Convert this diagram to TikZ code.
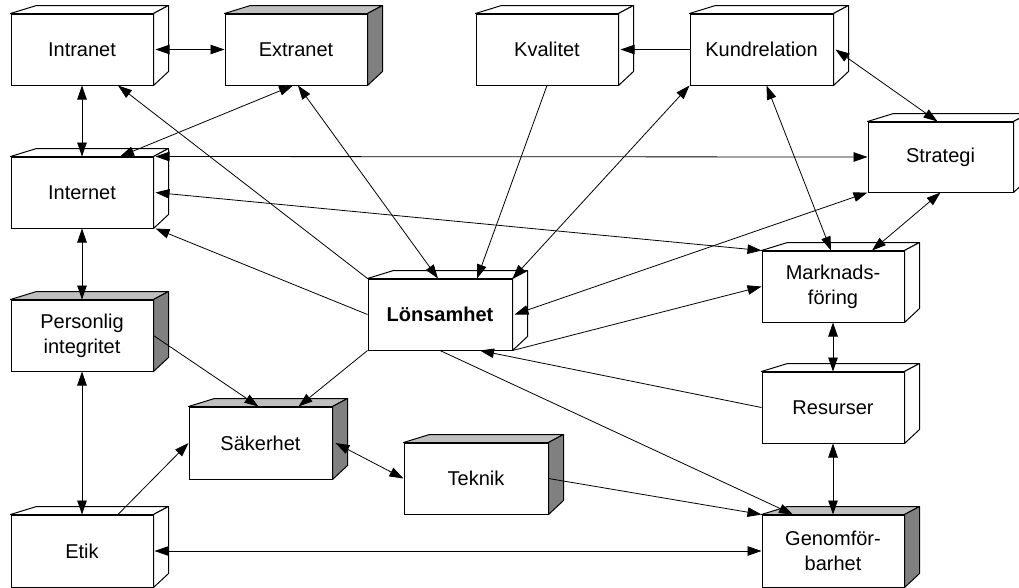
\documentclass[tikz,border=0pt]{standalone}
\usepackage{fontspec}
\setmainfont{Liberation Sans}
\usetikzlibrary{arrows.meta}
\newcommand\cubebox[8]{%
  \node[front, minimum width={(#4)-(#2)}, minimum height={(#5)-(#3)}] (#1) at ({((#2)+(#4))/2},{((#3)+(#5))/2}) {#8};
  \draw[#6] (#1.north west) -- ++(26,-8) -- ([shift={(15,-8)}]#1.north east) -- (#1.north east) -- cycle;
  \draw[#7] (#1.north east) -- ++(15,-8) -- ([shift={(15,-14)}]#1.south east) -- (#1.south east) -- cycle;
}
\begin{document}
\begin{tikzpicture}[x=1pt,y=-1pt,
  front/.style={draw=black, line width=1pt, fill=white, inner sep=0pt, align=center, font=\fontsize{20}{25}\selectfont},
  face/.style={draw=black, line width=1pt, line join=round},
  wface/.style={face, fill=white},
  ltface/.style={face, fill=black!25},
  dkface/.style={face, fill=black!50},
  link/.style={line width=0.8pt, -{Triangle[length=14pt,width=9.5pt]}},
  dlink/.style={line width=0.8pt, {Triangle[length=14pt,width=9.5pt]}-{Triangle[length=14pt,width=9.5pt]}},
]
\path[use as bounding box] (0,0) rectangle (1019,587);
\clip (0,0) rectangle (1019,587);
\fill[white] (0,0) rectangle (1019,587);

\cubebox{intranet}{11}{14}{153}{85}{wface}{wface}{Intranet}
\cubebox{extranet}{225}{14}{367}{85}{ltface}{dkface}{Extranet}
\cubebox{kvalitet}{476}{14}{618}{85}{wface}{wface}{Kvalitet}
\cubebox{kundrel}{690}{14}{833}{85}{wface}{wface}{Kundrelation}
\cubebox{strategi}{868}{122}{1013}{192}{wface}{wface}{Strategi}
\cubebox{internet}{11}{157}{153}{228}{wface}{wface}{Internet}
\cubebox{personlig}{11}{300}{153}{371}{ltface}{dkface}{Personlig\\integritet}
\cubebox{lonsam}{368}{279}{512}{350}{wface}{wface}{\textbf{Lönsamhet}}
\cubebox{markn}{762}{251}{904}{322}{wface}{wface}{Marknads-\\föring}
\cubebox{resurser}{762}{372}{904}{443}{wface}{wface}{Resurser}
\cubebox{sakerhet}{189}{407}{332}{479}{ltface}{dkface}{Säkerhet}
\cubebox{teknik}{404}{443}{548}{514}{ltface}{dkface}{Teknik}
\cubebox{genom}{762}{515}{904}{587}{ltface}{dkface}{Genomför-\\barhet}
\cubebox{etik}{11}{515}{153}{587}{wface}{wface}{Etik}

\draw[dlink] ([xshift=2]intranet.east) -- (extranet.west);
\draw[dlink] (intranet.south) -- (internet.north);
\draw[dlink] (internet.south) -- (personlig.north);
\draw[dlink] (personlig.south) -- (etik.north);
\draw[dlink] ([xshift=1]etik.east) -- (genom.west);
\draw[link] ([xshift=36]etik.north) -- (sakerhet.west);
\draw[link] (personlig.east) -- ([xshift=-2]sakerhet.north);
\draw[link] (lonsam.south west) -- ([xshift=38]sakerhet.north);
\draw[dlink] ([xshift=3]sakerhet.east) -- (teknik.west);
\draw[link] (teknik.east) -- (genom.north west);
\draw[link] (lonsam.south) -- ([xshift=-40]genom.north);
\draw[dlink] (resurser.south) -- (genom.north);
\draw[dlink] (markn.south) -- (resurser.north);
\draw[link] (resurser.west) -- ([xshift=40]lonsam.south);
\draw[link] (lonsam.south east) -- (markn.west);
\draw[dlink] ([xshift=2]internet.east) -- (markn.north west);
\draw[dlink] ([xshift=2]internet.north east) -- (strategi.west);
\draw[link] (lonsam.west) -- ([xshift=2]internet.south east);
\draw[link] (lonsam.north west) -- ([xshift=36]intranet.south);
\draw[dlink] ([xshift=2]extranet.south) -- ([xshift=-2]lonsam.north);
\draw[dlink] ([xshift=38]internet.north) -- ([xshift=-3]extranet.south);
\draw[link] (kvalitet.south) -- ([xshift=37]lonsam.north);
\draw[link] (kundrel.west) -- ([xshift=2]kvalitet.east);
\draw[dlink] (lonsam.north east) -- (kundrel.south west);
\draw[dlink] ([xshift=5]kundrel.south) -- ([xshift=-2]markn.north);
\draw[dlink] ([xshift=2]kundrel.east) -- ([xshift=-3]strategi.north);
\draw[dlink] (strategi.south) -- ([xshift=39]markn.north);
\draw[dlink] ([xshift=2]lonsam.east) -- (strategi.south west);
\end{tikzpicture}
\end{document}
